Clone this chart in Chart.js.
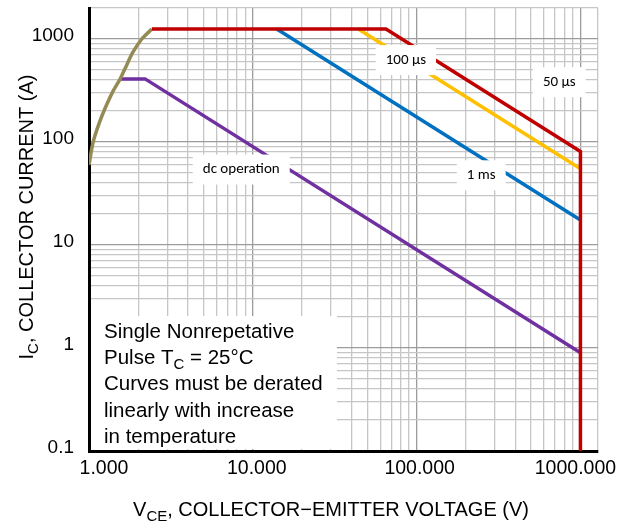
<!DOCTYPE html>
<html>
<head>
<meta charset="utf-8">
<script src="https://cdn.jsdelivr.net/npm/chart.js@4.4.0/dist/chart.umd.min.js"></script>
<style>
  html, body { margin: 0; padding: 0; background: #fff; }
  #wrap { width: 621px; height: 525px; }
</style>
</head>
<body>
<div id="wrap"><canvas id="soa"></canvas></div>
<script>
// curves (V in volts, I in amps)
const limitV = [1, 1.06, 1.15, 1.25, 1.4, 1.55, 1.7, 1.85, 2.1, 2.42];
const limitI = [60, 100, 150, 210, 310, 410, 560, 740, 1000, 1250];
const us50V = [2.42, 65, 1000, 1000];
const us50I = [1250, 1250, 81, 0.1];
const us100V = [44, 1000];
const us100I = [1250, 55];
const ms1V = [14, 1000];
const ms1I = [1250, 17.5];
const dcV = [1.55, 2.2, 1000];
const dcI = [410, 410, 0.9];

const xTicks = [1, 10, 100, 1000];
const xTickLabels = ['1.000', '10.000', '100.000', '1000.000'];
const yTicks = [0.1, 1, 10, 100, 1000];
const yTickLabels = ['0.1', '1', '10', '100', '1000'];

const curveNames = ['100 µs', '50 µs', '1 ms', 'dc operation'];
const curveNameV = [86, 743, 248, 8.5];
const curveNameI = [624, 381, 47.5, 54];

const noteLines = ['Single Nonrepetative', 'Pulse T_{C} = 25°C', 'Curves must be derated',
  'linearly with increase', 'in temperature'];

// gridline values 1..9 per decade
function decadeGrid(lo, hi, top) {
  const out = [];
  for (let d = lo; d < hi; d *= 10) {
    for (let m = 1; m < 10; m++) out.push(Number((m * d).toPrecision(3)));
  }
  out.push(hi, top);
  return out;
}
const xGrid = decadeGrid(1, 1000, 1280);
const yGrid = decadeGrid(0.1, 1000, 2000);

const FONT = '"Liberation Sans", Arial, Helvetica, sans-serif';
const CALLOUT = 'Carlito, Calibri, Lato, sans-serif';

const pts = (vs, is) => vs.map((v, k) => ({ x: v, y: is[k] }));

function isDecade(v) {
  const l = Math.log10(v);
  return Math.abs(l - Math.round(l)) < 1e-9;
}
function gridColor(min) {
  return (c) => {
    const v = c.tick && c.tick.value;
    if (v === min) return 'rgba(0,0,0,0)';
    return isDecade(v) ? '#9c9c9c' : '#c6c6c6';
  };
}

// text with _{sub} runs
function drawRich(ctx, str, x, y, size, fam, measureOnly) {
  const parts = str.split(/(_\{[^}]*\})/);
  let w = 0;
  parts.forEach(p => {
    if (!p) return;
    const sub = p.startsWith('_{');
    const t = sub ? p.slice(2, -1) : p;
    ctx.font = (sub ? Math.round(size * 0.75) : size) + 'px ' + fam;
    if (!measureOnly) ctx.fillText(t, x + w, sub ? y + size * 0.25 : y);
    w += ctx.measureText(t).width;
  });
  return w;
}

const soaDecor = {
  id: 'soaDecor',
  afterDatasetsDraw(chart) {
    const { ctx, chartArea: a, scales: { x, y } } = chart;
    ctx.save();
    ctx.textAlign = 'center';
    ctx.textBaseline = 'middle';
    ctx.font = '15px ' + CALLOUT;
    curveNames.forEach((t, k) => {
      const px = x.getPixelForValue(curveNameV[k]);
      const py = y.getPixelForValue(curveNameI[k]);
      const w = ctx.measureText(t).width + 20;
      ctx.fillStyle = '#fff';
      ctx.fillRect(px - w / 2, py - 15, w, 30);
      ctx.fillStyle = '#000';
      ctx.fillText(t, px, py);
    });

    // note box, bottom left
    ctx.fillStyle = '#fff';
    ctx.fillRect(a.left + 2, 316, 246, a.bottom - 318);
    ctx.fillStyle = '#000';
    ctx.textAlign = 'left';
    ctx.textBaseline = 'alphabetic';
    noteLines.forEach((s, k) => drawRich(ctx, s, 104, 338 + k * 26.2, 20.5, FONT));
    ctx.restore();
  },
  afterDraw(chart) {
    const { ctx, scales: { x } } = chart;
    ctx.save();
    ctx.fillStyle = '#000';
    ctx.textBaseline = 'middle';
    ctx.textAlign = 'center';
    ctx.font = '19.5px ' + FONT;
    const nudge = [15, 4, 3, -5];
    xTicks.forEach((v, k) => ctx.fillText(xTickLabels[k], x.getPixelForValue(v) + nudge[k], 469));

    ctx.textAlign = 'left';
    ctx.textBaseline = 'alphabetic';
    const xt = 'V_{CE}, COLLECTOR\u2212EMITTER VOLTAGE (V)';
    const xw = drawRich(ctx, xt, 0, 0, 20, FONT, true);
    drawRich(ctx, xt, 331 - xw / 2, 516, 20, FONT);

    const yt = 'I_{C}, COLLECTOR CURRENT (A)';
    const yw = drawRich(ctx, yt, 0, 0, 20, FONT, true);
    ctx.translate(33, 217 + yw / 2);
    ctx.rotate(-Math.PI / 2);
    drawRich(ctx, yt, 0, 0, 20, FONT);
    ctx.restore();
  }
};

new Chart(document.getElementById('soa'), {
  type: 'line',
  data: {
    datasets: [
      { label: '50 µs', data: pts(us50V, us50I), borderColor: '#c00000' },
      { label: '100 µs', data: pts(us100V, us100I), borderColor: '#ffc000' },
      { label: '1 ms', data: pts(ms1V, ms1I), borderColor: '#0070c0' },
      { label: 'limit', data: pts(limitV, limitI), borderColor: '#948a54', tension: 0.3 },
      { label: 'dc operation', data: pts(dcV, dcI), borderColor: '#7030a0' }
    ]
  },
  options: {
    responsive: true,
    maintainAspectRatio: false,
    animation: false,
    layout: { padding: { top: 8, right: 23, left: 0, bottom: 0 } },
    elements: {
      point: { radius: 0 },
      line: { borderWidth: 3.5, fill: false, borderCapStyle: 'butt', borderJoinStyle: 'miter' }
    },
    plugins: { legend: { display: false }, tooltip: { enabled: false } },
    scales: {
      x: {
        type: 'logarithmic', min: 1, max: 1280,
        afterBuildTicks: s => { s.ticks = xGrid.map(v => ({ value: v })); },
        afterFit: s => { s.height = 74; s.paddingLeft = 0; s.paddingRight = 0; },
        ticks: { display: false },
        grid: { color: gridColor(1), lineWidth: 1.3, drawTicks: false },
        border: { color: '#000', width: 3 }
      },
      y: {
        type: 'logarithmic', min: 0.1, max: 2000,
        afterBuildTicks: s => { s.ticks = yGrid.map(v => ({ value: v })); },
        afterFit: s => { s.width = 89; s.paddingTop = 0; s.paddingBottom = 0; },
        ticks: {
          autoSkip: false,
          color: '#000',
          font: { family: FONT, size: 19 },
          padding: 15,
          labelOffset: -3,
          callback: v => { const k = yTicks.indexOf(v); return k < 0 ? '' : yTickLabels[k]; }
        },
        grid: { color: gridColor(0.1), lineWidth: 1.3, drawTicks: false },
        border: { color: '#000', width: 3 }
      }
    }
  },
  plugins: [soaDecor]
});
</script>
</body>
</html>
